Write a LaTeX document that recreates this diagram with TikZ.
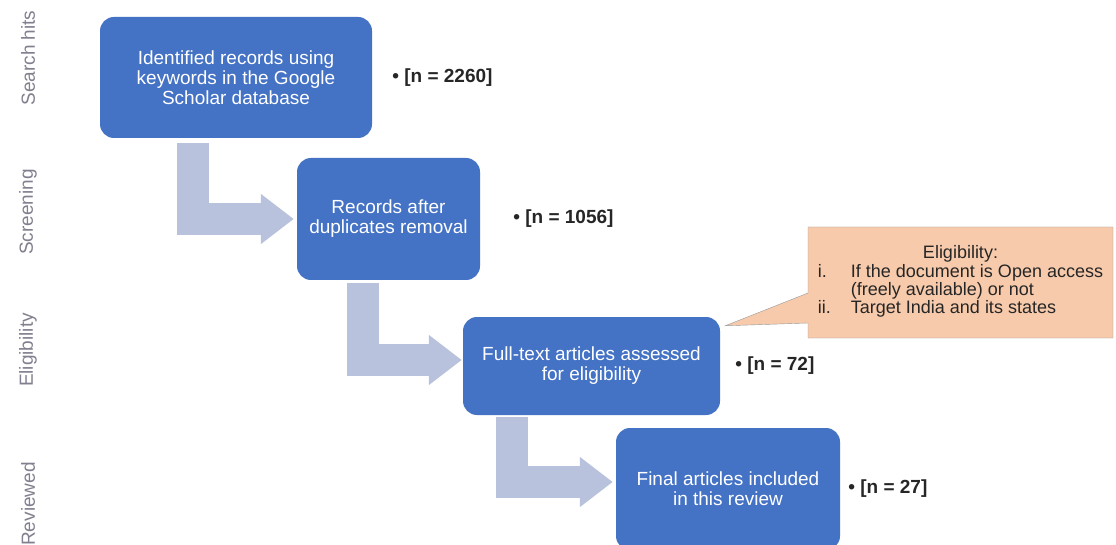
\documentclass[tikz,border=0pt]{standalone}
\usepackage{fontspec}
\setmainfont{Liberation Sans}
\usetikzlibrary{positioning,arrows.meta,shapes.callouts}
\definecolor{boxblue}{HTML}{4472C4}
\definecolor{flowgray}{HTML}{B8C2DC}
\definecolor{notepeach}{HTML}{F7CAAB}
\definecolor{stagegray}{HTML}{80808F}
\tikzset{
  stepbox/.style={rectangle, rounded corners=14pt, fill=boxblue, text=white,
    align=center, font=\fontsize{19}{20}\selectfont, inner sep=4pt},
  count/.style={font=\bfseries\fontsize{19}{20}\selectfont, text=black!85, inner sep=0pt},
  stage/.style={rotate=90, text=stagegray, font=\fontsize{19}{20}\selectfont},
  flow/.style={draw=flowgray, line width=32pt, line join=miter,
    -{Triangle[width=48pt,length=33pt]}},
}

\begin{document}
\begin{tikzpicture}[x=1pt,y=-1pt]
\clip (0,0) rectangle (1116,545);
\fill[white] (0,0) rectangle (1116,545);
% stage names on the left
\node[stage] (s1) at (28,58) {Search hits};
\node[stage] (s2) at (28,212) {Screening};
\node[stage] (s3) at (28,350) {Eligibility};
\node[stage] (s4) at (28,504) {Reviewed};
% the four steps
\node[stepbox, minimum width=272pt, minimum height=121pt] (hits) at (236,77.5)
  {Identified records using\\keywords in the Google\\Scholar database};
\node[stepbox, minimum width=183pt, minimum height=122pt] (screen) at (388.5,219)
  {Records after\\duplicates removal};
\node[stepbox, minimum width=257pt, minimum height=98pt] (elig) at (591.5,366)
  {Full-text articles assessed\\for eligibility};
\node[stepbox, minimum width=224pt, minimum height=122pt] (final) at (728,489)
  {Final articles included\\in this review};
% counts
\node[count, right=20pt of hits] (n1) {• [n = 2260]};
\node[count, right=33pt of screen] (n2) {• [n = 1056]};
\node[count, right=15pt of elig] (n3) {• [n = 72]};
\node[count, right=8pt of final] (n4) {• [n = 27]};
% arrows
\draw[flow] ([xshift=93pt,yshift=-5pt]hits.south west) |- ([xshift=-3pt]screen.west);
\draw[flow] ([xshift=66pt,yshift=-3pt]screen.south west) |- ([xshift=-1pt,yshift=6pt]elig.west);
\draw[flow] ([xshift=49.5pt,yshift=-2pt]elig.south west) |- ([xshift=-3pt,yshift=7pt]final.west);
% eligibility note
\node[rectangle callout, fill=notepeach, draw=black!40, minimum width=305pt,
  minimum height=111pt, inner sep=0pt, callout pointer width=30pt,
  callout absolute pointer={([xshift=5pt,yshift=-9pt]elig.north east)},
  font=\fontsize{18}{17.5}\selectfont, text=black!85] (rule) at (960.5,282.5)
  {\begin{tabular}{@{}p{33pt}@{}l@{}}
   \multicolumn{2}{c}{Eligibility:}\\
   i. & If the document is Open access\\
      & (freely available) or not\\
   ii. & Target India and its states
   \end{tabular}};
\end{tikzpicture}
\end{document}
